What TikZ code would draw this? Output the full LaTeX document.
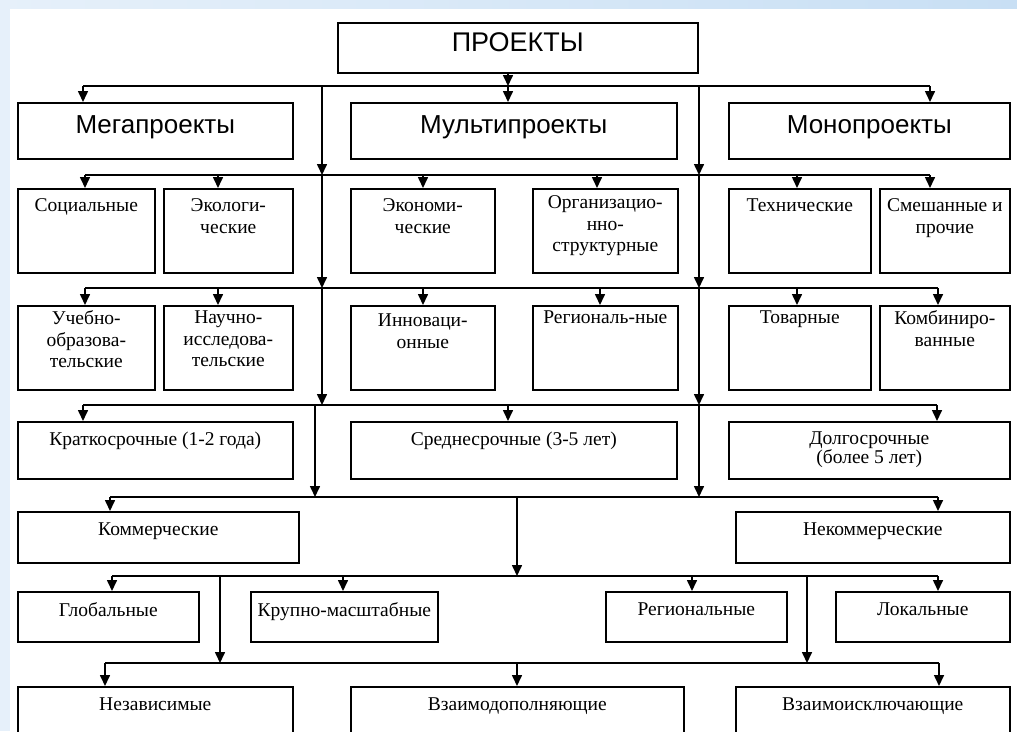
\documentclass[tikz,border=0pt]{standalone}
\usepackage{fontspec}
\setmainfont{Liberation Serif}
\newfontfamily\headfont{Liberation Sans}
\usetikzlibrary{arrows.meta,positioning}
\definecolor{bgblue}{HTML}{E6F0FA}
\definecolor{bgdark}{HTML}{C8DFF4}

\begin{document}
\begin{tikzpicture}[x=1pt,y=-1pt,line width=1.6pt,
        >={Triangle[width=10pt,length=11pt]},
        box/.style 2 args={draw,anchor=north west,inner sep=0pt,
                minimum width=#1pt,minimum height=#2pt},
        lbl/.style={anchor=north,align=center,inner sep=0pt,yshift=-10pt,
                font=\fontsize{19.5}{21.5}\selectfont},
        head/.style={lbl,yshift=-3pt,font=\headfont\fontsize{26}{28}\selectfont}]

\useasboundingbox (0,0) rectangle (1017,731);
\clip (0,0) rectangle (1017,731);
% slide background
\fill[bgblue] (0,0) rectangle (1017,731);
\shade[left color=bgblue,right color=bgdark] (0,0) rectangle (1017,9);
\fill[white] (10,9) rectangle (1017,731);

\node[box={360}{50}] (top) at (337,22) {};
\node[head,yshift=3pt,font=\headfont\fontsize{27}{28}\selectfont] (top-t) at (top.north) {ПРОЕКТЫ};

% level 1
\node[box={275}{56}] (r1a) at (17,102) {};
\node[box={326}{56}] (r1b) at (350,102) {};
\node[box={281}{56}] (r1c) at (728,102) {};
\node[head] (r1a-t) at (r1a.north) {Мегапроекты};
\node[head] (r1b-t) at (r1b.north) {Мультипроекты};
\node[head] (r1c-t) at (r1c.north) {Монопроекты};

% level 2
\node[box={137}{84}] (r2a) at (17,188) {};
\node[box={129}{84}] (r2b) at (163,188) {};
\node[box={144}{84}] (r2c) at (350,188) {};
\node[box={145}{84}] (r2d) at (532,188) {};
\node[box={142}{84}] (r2e) at (728,188) {};
\node[box={130}{84}] (r2f) at (879,188) {};
\node[lbl] (r2a-t) at (r2a.north) {Социальные};
\node[lbl] (r2b-t) at (r2b.north) {Экологи-\\ческие};
\node[lbl] (r2c-t) at (r2c.north) {Экономи-\\ческие};
\node[lbl,yshift=3pt] (r2d-t) at (r2d.north) {Организацио-\\нно-\\структурные};
\node[lbl] (r2e-t) at (r2e.north) {Технические};
\node[lbl] (r2f-t) at (r2f.north) {Смешанные и\\прочие};

% level 3
\node[box={137}{84}] (r3a) at (17,305) {};
\node[box={129}{84}] (r3b) at (163,305) {};
\node[box={144}{84}] (r3c) at (350,305) {};
\node[box={145}{84}] (r3d) at (532,305) {};
\node[box={142}{84}] (r3e) at (728,305) {};
\node[box={130}{84}] (r3f) at (879,305) {};
\node[lbl,yshift=5pt] (r3a-t) at (r3a.north) {Учебно-\\образова-\\тельские};
\node[lbl,yshift=5pt] (r3b-t) at (r3b.north) {Научно-\\исследова-\\тельские};
\node[lbl,yshift=2pt] (r3c-t) at (r3c.north) {Инноваци-\\онные};
\node[lbl,yshift=5pt] (r3d-t) at (r3d.north) {Региональ-ные};
\node[lbl,yshift=5pt] (r3e-t) at (r3e.north) {Товарные};
\node[lbl,yshift=5pt] (r3f-t) at (r3f.north) {Комбиниро-\\ванные};

% level 4
\node[box={275}{57}] (r4a) at (17,421) {};
\node[box={326}{57}] (r4b) at (350,421) {};
\node[box={281}{57}] (r4c) at (728,421) {};
\node[lbl] (r4a-t) at (r4a.north) {Краткосрочные (1-2 года)};
\node[lbl] (r4b-t) at (r4b.north) {Среднесрочные (3-5 лет)};
\node[lbl,font=\fontsize{19.5}{18}\selectfont] (r4c-t) at (r4c.north) {Долгосрочные\\(более 5 лет)};

% level 5
\node[box={281}{51}] (r5a) at (17,511) {};
\node[box={274}{51}] (r5b) at (735,511) {};
\node[lbl,yshift=-1pt] (r5a-t) at (r5a.north) {Коммерческие};
\node[lbl,yshift=-1pt] (r5b-t) at (r5b.north) {Некоммерческие};

% level 6
\node[box={181}{50}] (r6a) at (17,591) {};
\node[box={187}{50}] (r6b) at (250,591) {};
\node[box={181}{50}] (r6c) at (605,591) {};
\node[box={174}{50}] (r6d) at (835,591) {};
\node[lbl,yshift=-1pt] (r6a-t) at (r6a.north) {Глобальные};
\node[lbl,yshift=-1pt] (r6b-t) at (r6b.north) {Крупно-масштабные};
\node[lbl,yshift=-1pt] (r6c-t) at (r6c.north) {Региональные};
\node[lbl,yshift=-1pt] (r6d-t) at (r6d.north) {Локальные};

% level 7
\node[box={275}{60}] (r7a) at (17,686) {};
\node[box={333}{60}] (r7b) at (350,686) {};
\node[box={274}{60}] (r7c) at (735,686) {};
\node[lbl,yshift=-1pt] (r7a-t) at (r7a.north) {Независимые};
\node[lbl,yshift=-1pt] (r7b-t) at (r7b.north) {Взаимодополняющие};
\node[lbl,yshift=-1pt] (r7c-t) at (r7c.north) {Взаимоисключающие};

% arrows from the buses into the boxes
\foreach \n/\xx/\yy in {r1a/83/86, r1b/508/86, r1c/930/86,
        r2a/85/175, r2b/218/175, r2c/423/175, r2d/597/175, r2e/797/175, r2f/930/175,
        r3a/85/288, r3b/218/288, r3c/423/288, r3d/600/288, r3e/797/288, r3f/938/288,
        r4a/83/405, r4b/508/405, r4c/937/405,
        r5a/110/497, r5b/938/497,
        r6a/112/576, r6b/343/576, r6c/692/576, r6d/938/576,
        r7a/105/663, r7b/517/663, r7c/939/663}
{
    \coordinate (\n-in) at (\xx,\yy);
    \draw[->] (\n-in) -- (\n-in |- \n.north);
}

% buses
\draw (r1a-in) -- (r1c-in);
\draw (r2a-in) -- (r2f-in);
\draw (r3a-in) -- (r3f-in);
\draw (r4a-in) -- (r4c-in);
\draw (r5a-in) -- (r5b-in);
\draw (r6a-in) -- (r6d-in);
\draw (r7a-in) -- (r7c-in);

% trunks between the buses
\draw[->] (top.south -| r1b-in) -- (r1b-in);
\coordinate (kl) at (322,86);
\coordinate (kr) at (699,86);
\foreach \k in {kl,kr}
{
    \draw[->] (\k) -- (\k |- r2a-in);
    \draw[->] (\k |- r2a-in) -- (\k |- r3a-in);
    \draw[->] (\k |- r3a-in) -- (\k |- r4a-in);
}
\coordinate (kl2) at (315,405);
\draw[->] (kl2) -- (kl2 |- r5a-in);
\draw[->] (kr |- r4a-in) -- (kr |- r5a-in);
\coordinate (km) at (517,497);
\draw[->] (km) -- (km |- r6a-in);
\coordinate (k6l) at (220,576);
\coordinate (k6r) at (807,576);
\draw[->] (k6l) -- (k6l |- r7a-in);
\draw[->] (k6r) -- (k6r |- r7a-in);

\end{tikzpicture}
\end{document}
